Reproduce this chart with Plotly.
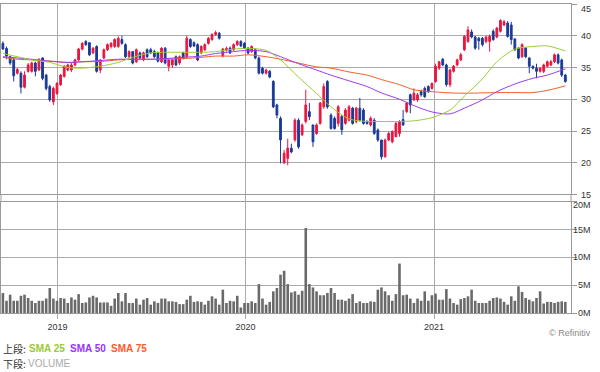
import pandas as pd
import plotly.graph_objects as go

# ---------------- data ----------------
start_week = "2018-09-17"
n_weeks = 157
dates = pd.date_range(start_week, periods=n_weeks, freq="7D")

opens = [38.8,38.0,36.7,36.2,34.1,34.1,31.9,34.4,34.4,35.7,
         34.6,36.5,33.8,32.0,29.6,30.9,32.3,33.6,34.6,34.6,
         35.4,36.2,37.9,39.1,38.9,37.3,38.3,34.6,36.5,37.8,
         38.3,38.3,38.3,39.4,38.6,36.7,37.5,35.9,37.3,36.2,
         37.8,37.8,37.5,37.3,35.9,38.05,35.2,35.4,36.7,35.7,
         37.3,36.7,39.4,38.9,38.6,37.3,37.8,38.8,39.4,40.2,
         40.4,36.8,37.7,38.05,37.8,38.6,39.1,38.8,38.05,37.5,
         37.8,36.5,34.9,34.1,34.4,32.8,29.1,27.0,20.0,20.7,
         22.3,23.6,26.7,24.4,26.5,28.05,25.95,24.6,26.2,28.8,
         32.8,27.5,27.0,26.2,27.3,26.2,26.7,28.6,26.5,28.6,
         28.3,26.5,25.95,26.7,25.16,23.58,20.95,23.58,23.3,24.1,
         24.6,26.8,28.05,30.7,29.9,29.9,31.2,31.7,32.0,31.7,
         32.8,34.9,36.3,35.4,32.3,34.4,35.4,36.2,37.8,39.1,
         40.6,39.8,39.6,39.6,39.1,39.1,40.7,39.8,40.7,41.7,
         42.0,41.7,39.5,38.05,36.7,38.05,36.5,35.2,34.9,34.4,
         34.4,35.2,35.4,35.9,37.0,36.2,33.8]
highs = [39.1,38.3,36.8,36.5,34.9,34.4,34.4,35.7,35.9,35.9,
         36.5,36.6,34.0,32.3,32.0,32.7,34.0,35.4,35.6,35.7,
         36.4,38.1,39.0,39.3,39.0,38.2,38.5,36.3,38.0,38.8,
         39.0,39.6,39.9,40.0,38.8,37.7,37.6,38.0,37.5,37.5,
         38.0,38.1,37.8,37.5,38.2,38.2,36.4,36.4,36.9,36.9,
         37.5,40.0,39.6,39.1,38.8,38.5,38.8,39.8,40.4,40.8,
         40.6,38.1,38.3,38.3,38.8,39.3,39.3,39.0,38.2,38.5,
         38.0,36.7,35.1,34.8,34.6,33.0,29.3,27.3,22.0,23.8,
         23.0,27.0,27.0,26.2,31.5,29.4,26.0,26.2,29.6,32.5,
         33.0,27.8,27.3,29.1,27.5,28.6,29.1,28.8,28.8,30.2,
         28.6,26.7,27.3,27.0,25.4,23.6,23.8,24.9,25.1,26.5,
         26.7,28.3,29.6,30.9,31.7,31.0,31.5,32.0,32.2,32.6,
         35.6,36.0,36.5,35.6,34.8,35.4,36.4,37.3,40.1,41.5,
         41.0,40.0,39.8,39.8,40.0,40.2,41.0,41.4,42.6,42.5,
         42.3,42.2,39.6,38.2,38.8,38.2,36.6,35.3,35.6,35.0,
         35.6,36.1,36.2,37.2,37.2,36.4,34.0]
lows = [37.8,36.3,35.4,32.8,33.9,30.9,31.7,34.2,34.2,33.6,
        34.5,33.0,31.4,29.6,29.1,30.7,32.1,33.4,34.4,34.3,
        35.2,36.0,37.7,38.4,36.8,37.1,34.2,34.1,36.3,37.6,
        38.0,38.1,38.1,38.6,36.5,36.5,35.5,35.7,36.3,36.0,
        36.5,37.1,36.5,35.8,35.7,35.5,34.4,34.9,35.2,35.4,
        36.3,36.5,38.1,38.2,36.0,37.1,37.6,38.6,39.2,40.0,
        39.4,36.6,37.5,37.1,37.6,38.4,38.2,37.9,37.1,37.3,
        36.3,33.9,33.9,33.9,33.3,28.6,27.0,19.9,19.8,19.6,
        21.5,23.3,22.2,24.2,26.2,26.7,22.5,24.4,26.0,28.5,
        28.5,25.2,25.2,25.7,24.4,26.0,26.5,26.0,26.2,26.5,
        26.0,26.0,25.7,24.4,23.3,20.5,20.8,23.4,23.05,24.0,
        24.1,25.8,27.8,27.8,29.7,29.6,30.4,30.2,31.0,31.5,
        32.6,34.6,35.2,32.0,31.9,34.2,35.2,36.0,37.6,38.9,
        39.6,37.8,37.8,38.3,38.8,37.5,39.2,39.6,40.5,41.5,
        39.7,38.6,37.6,36.3,36.5,36.5,34.1,34.7,33.3,34.2,
        34.1,35.0,35.2,35.7,35.5,33.5,32.6]
closes = [37.9,36.8,35.7,33.7,34.7,31.9,33.8,35.4,35.7,34.4,
          36.2,33.3,31.7,29.9,31.7,32.5,33.8,35.2,35.4,35.4,
          36.2,37.9,38.8,38.6,37.0,38.05,34.4,36.2,37.8,38.6,
          38.8,39.4,39.6,38.8,36.7,37.5,35.7,37.8,36.5,37.3,
          36.7,37.3,36.7,36.0,38.05,35.7,36.2,36.2,35.4,36.7,
          36.5,39.6,38.3,38.4,36.2,38.3,38.6,39.6,40.2,40.5,
          39.6,37.9,38.0,37.3,38.6,39.1,38.4,38.05,37.3,38.3,
          36.5,34.1,34.1,34.6,33.5,28.8,27.5,23.6,21.5,22.3,
          21.7,26.7,22.5,25.95,29.1,27.26,23.3,25.95,29.4,32.0,
          28.8,25.4,25.4,28.8,25.2,28.3,28.8,26.2,28.6,26.7,
          26.2,26.2,27.0,24.6,23.58,20.95,23.58,24.6,24.9,26.2,
          26.5,25.95,29.4,29.1,30.95,30.7,30.7,30.4,31.2,32.5,
          35.2,35.9,35.4,32.3,34.6,35.2,36.2,37.0,39.9,40.9,
          39.8,38.05,39.2,38.6,39.8,39.9,39.4,41.2,42.4,42.2,
          39.9,39.4,37.8,36.5,38.6,36.7,35.2,34.9,34.4,34.9,
          35.4,35.9,35.9,37.0,35.7,33.8,32.8]
volumes_m = [3.6,2.2,3.3,2.2,2.2,3.1,3.3,2.7,2.2,1.8,
             2.2,2.2,2.6,4.5,2.6,2.2,2.7,2.6,1.8,2.8,
             2.4,3.4,1.8,1.9,2.8,3.1,2.8,1.9,1.9,1.9,
             1.3,2.6,3.6,2.1,3.6,1.8,1.8,2.6,1.5,2.4,
             2.7,1.5,2.1,1.8,2.6,2.6,2.1,2.1,2.0,1.6,
             1.6,2.4,3.1,2.0,2.1,2.0,1.5,2.2,3.0,2.6,
             1.5,4.2,1.8,2.2,2.1,3.1,1.0,1.8,1.8,2.1,
             1.8,5.2,2.6,1.5,2.0,3.9,4.5,6.9,7.6,5.2,
             3.7,3.9,3.3,4.0,15.3,5.2,4.6,3.9,3.2,3.2,
             3.6,4.5,3.6,2.4,2.4,2.2,2.6,3.4,1.8,2.1,
             1.8,1.8,2.1,2.0,4.2,4.6,3.9,3.2,2.2,3.4,
             8.9,3.2,3.3,2.6,1.8,2.6,2.2,3.9,2.2,3.2,
             3.5,2.4,2.4,4.3,2.6,1.8,1.5,2.5,2.7,3.0,
             4.2,2.2,1.8,1.8,1.8,2.2,2.7,2.8,2.6,2.0,
             1.5,3.0,2.2,4.8,3.8,2.7,2.4,2.1,2.7,3.9,
             1.7,2.0,2.0,1.8,2.0,2.1,2.0]

# moving-average lines, read at these week indices
sma_idx = [0,4,8,13,18,22,27,32,36,41,45,50,55,59,64,68,73,77,82,87,
           91,96,101,105,110,114,119,124,128,133,137,142,147,151,156]
sma25 = [37.2,36.7,36.2,35.8,35.0,34.9,35.2,35.8,36.6,37.3,37.4,37.4,37.4,37.5,
         37.9,38.0,37.7,36.2,33.5,30.9,28.8,26.9,26.5,26.5,26.5,26.6,27.1,28.3,
         30.5,33.2,35.9,37.9,38.3,38.4,37.6]
sma50 = [36.7,36.5,36.3,36.0,35.8,35.9,36.1,36.3,36.3,36.3,36.4,36.6,36.8,37.2,
         37.5,37.7,37.5,36.7,35.6,34.6,33.8,32.9,32.0,31.0,30.0,29.0,28.0,27.7,
         28.6,29.9,31.2,32.4,33.3,33.8,34.8]
sma75 = [36.6,36.3,36.2,36.0,35.8,35.9,35.95,36.2,36.3,36.3,36.3,36.4,36.6,36.8,
         36.8,37.0,36.7,36.3,35.7,35.1,34.9,34.3,33.8,33.1,32.3,31.5,31.2,31.0,
         30.95,31.0,31.05,31.05,31.05,31.4,32.1]

year_ticks = ["2019-01-01", "2020-01-01", "2021-01-01"]
year_labels = ["2019", "2020", "2021"]
price_ticks = [15, 20, 25, 30, 35, 40, 45]
vol_ticks = [0, 5e6, 10e6, 15e6, 20e6]
vol_labels = ["0M", "5M", "10M", "15M", "20M"]

# ---------------- styling ----------------
UP = "#e8173f"
DOWN = "#1b3a97"
GRID = "#ababab"
AXIS = "#9a9a9a"
C25, C50, C75 = "#9acd32", "#9b3cf0", "#f0602a"
x_range = ["2018-09-13 07:00", "2021-09-24 00:00"]

fig = go.Figure()
fig.add_trace(go.Candlestick(
    x=dates, open=opens, high=highs, low=lows, close=closes,
    increasing=dict(line=dict(color=UP, width=1), fillcolor=UP),
    decreasing=dict(line=dict(color=DOWN, width=1), fillcolor=DOWN),
    whiskerwidth=0, hoverinfo="skip", showlegend=False,
    xaxis="x", yaxis="y"))

sma_dates = [dates[i] for i in sma_idx]
for vals, col in [(sma75, C75), (sma50, C50), (sma25, C25)]:
    fig.add_trace(go.Scatter(x=sma_dates, y=vals, mode="lines",
                             line=dict(color=col, width=1, shape="spline", smoothing=0.8),
                             hoverinfo="skip", showlegend=False,
                             xaxis="x", yaxis="y"))

fig.add_trace(go.Bar(x=dates, y=[v * 1e6 for v in volumes_m],
                     marker=dict(color="#6a6a6a", line=dict(width=0)),
                     hoverinfo="skip", showlegend=False,
                     xaxis="x2", yaxis="y2"))

TOP_LO, VOL_HI = 0.3835, 0.3595

common_x = dict(range=x_range, type="date", tickvals=year_ticks,
                showgrid=True, gridcolor=GRID, gridwidth=1,
                showline=True, linecolor=AXIS, mirror=True,
                ticks="outside", tickcolor=GRID, zeroline=False,
                fixedrange=True)
fig.update_layout(
    width=600, height=372,
    margin=dict(l=1, r=29, t=4, b=59),
    paper_bgcolor="white", plot_bgcolor="white",
    bargap=0.28,
    xaxis=dict(domain=[0, 1], anchor="y", showticklabels=False, ticklen=8,
               rangeslider=dict(visible=False), **common_x),
    xaxis2=dict(domain=[0, 1], anchor="y2", showticklabels=True, ticklen=5,
                ticktext=year_labels,
                tickfont=dict(family="Liberation Sans, Arial, sans-serif", size=9, color="#333"),
                **common_x),
    yaxis=dict(domain=[TOP_LO, 1], range=[15, 45], side="right",
               tickvals=price_ticks, showticklabels=False,
               ticks="outside", ticklen=5, tickcolor=AXIS,
               showgrid=True, gridcolor=GRID, showline=True, linecolor=AXIS,
               mirror=True, zeroline=False, fixedrange=True),
    yaxis2=dict(domain=[0, VOL_HI], range=[0, 20e6], side="right",
                tickvals=vol_ticks, showticklabels=False,
                ticks="outside", ticklen=5, tickcolor=AXIS,
                showgrid=True, gridcolor=GRID, showline=True, linecolor=AXIS,
                mirror=True, zeroline=False, fixedrange=True),
)

# continuous right/left borders through the gap between panels
for xp in (0, 1):
    fig.add_shape(type="line", xref="paper", yref="paper", x0=xp, x1=xp,
                  y0=VOL_HI, y1=TOP_LO, line=dict(color=AXIS, width=1))
for t in year_ticks:
    fig.add_shape(type="line", xref="x", yref="paper", x0=t, x1=t,
                  y0=VOL_HI, y1=TOP_LO, line=dict(color=GRID, width=1))

tick_font = dict(family="Liberation Sans, Arial, sans-serif", size=9, color="#333")
LAB_X = 1.0386
for v in price_ticks:
    shift = -5 if v == 45 else 0
    fig.add_annotation(x=LAB_X, xref="paper", y=v, yref="y", text=str(v),
                       showarrow=False, xanchor="right", yanchor="middle",
                       yshift=shift, font=tick_font)
for v, lab in zip(vol_ticks, vol_labels):
    shift = -3 if v == 20e6 else 0
    fig.add_annotation(x=LAB_X, xref="paper", y=v, yref="y2", text=lab,
                       showarrow=False, xanchor="right", yanchor="middle",
                       yshift=shift, font=tick_font)

def px_x(px):
    return (px - 1) / 570.0

def px_y(py):
    return (313 - py) / 309.0

cjk = "Noto Sans CJK JP, sans-serif"
lat = "Liberation Sans, Arial, sans-serif"
legend_items = [
    ("上段:", 1, 348.5, cjk, "#333", False),
    ("SMA 25", 27, 348.5, lat, "#99cc33", True),
    ("SMA 50", 68, 348.5, lat, "#9933ff", True),
    ("SMA 75", 109, 348.5, lat, "#ff5a2a", True),
    ("下段:", 1, 363, cjk, "#333", False),
    ("VOLUME", 26, 363, lat, "#aaaaaa", False),
]
for txt, x0, y0, fam, col, bold in legend_items:
    fig.add_annotation(x=px_x(x0), y=px_y(y0), xref="paper", yref="paper",
                       text=f"<b>{txt}</b>" if bold else txt, showarrow=False,
                       xanchor="left", yanchor="middle",
                       font=dict(family=fam, size=10, color=col))

fig.add_annotation(x=LAB_X, y=px_y(333), xref="paper", yref="paper",
                   text="© Refinitiv", showarrow=False, xanchor="right",
                   yanchor="middle", font=dict(family=lat, size=9, color="#888"))

fig.write_html("out.html", config={"displayModeBar": False},
               post_script="document.body.style.margin='0';document.body.style.overflow='hidden';")
